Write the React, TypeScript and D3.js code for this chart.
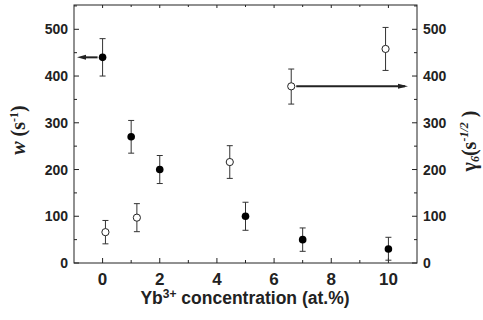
import React from "react";
import * as d3 from "d3";

const filledX = [0, 1, 2, 5, 7, 10];
const filledY = [440, 270, 200, 100, 50, 30];
const filledLo = [400, 235, 170, 70, 25, 6];
const filledHi = [480, 305, 230, 130, 75, 55];

const openX = [0.1, 1.2, 4.45, 6.6, 9.9];
const openY = [66, 97, 216, 378, 458];
const openLo = [41, 67, 181, 340, 412];
const openHi = [91, 127, 251, 415, 504];

const xTicks = [0, 2, 4, 6, 8, 10];
const xMinor = [1, 3, 5, 7, 9];
const yTicks = [0, 100, 200, 300, 400, 500];
const yMinor = [50, 150, 250, 350, 450, 550];

const W = 483, H = 320;
const M = { left: 74, right: 417, top: 5, bottom: 263 };

export default function App() {
  const x = d3.scaleLinear().domain([-1, 11]).range([M.left, M.right]);
  const y = d3.scaleLinear().domain([0, 552]).range([M.bottom, M.top]);
  const ax = "#222";
  const tickFont = "'Liberation Sans', Arial, sans-serif";
  const serif = "'Liberation Serif', 'Times New Roman', serif";
  const cap = 3;

  const err = (xs: number[], lo: number[], hi: number[], key: string) =>
    xs.map((xv, i) => (
      <g key={key + i} stroke="#333" strokeWidth={1}>
        <line x1={x(xv)} x2={x(xv)} y1={y(lo[i])} y2={y(hi[i])} />
        <line x1={x(xv) - cap} x2={x(xv) + cap} y1={y(lo[i])} y2={y(lo[i])} />
        <line x1={x(xv) - cap} x2={x(xv) + cap} y1={y(hi[i])} y2={y(hi[i])} />
      </g>
    ));

  const arrowLeftY = y(filledY[0]);
  const arrowRightY = y(openY[3]);

  return (
    <svg width={W} height={H} style={{ position: "absolute", left: 0, top: 0, background: "#fff" }}>
      <rect x={M.left} y={M.top} width={M.right - M.left} height={M.bottom - M.top} fill="none" stroke={ax} strokeWidth={1} />
      {xTicks.map((t) => (
        <g key={"xt" + t}>
          <line x1={x(t)} x2={x(t)} y1={M.bottom} y2={M.bottom - 5} stroke={ax} />
          <line x1={x(t)} x2={x(t)} y1={M.top} y2={M.top + 3} stroke={ax} />
          <text x={x(t)} y={285} textAnchor="middle" fontFamily={tickFont} fontWeight="bold" fontSize={17} fill="#222">{t}</text>
        </g>
      ))}
      {xMinor.map((t) => (
        <g key={"xm" + t}>
          <line x1={x(t)} x2={x(t)} y1={M.bottom} y2={M.bottom - 3} stroke={ax} />
          <line x1={x(t)} x2={x(t)} y1={M.top} y2={M.top + 2} stroke={ax} />
        </g>
      ))}
      {yTicks.map((t) => (
        <g key={"yt" + t}>
          <line x1={M.left} x2={M.left + 5} y1={y(t)} y2={y(t)} stroke={ax} />
          <line x1={M.right} x2={M.right - 5} y1={y(t)} y2={y(t)} stroke={ax} />
          <text x={68} y={y(t) + 5} textAnchor="end" fontFamily={tickFont} fontWeight="bold" fontSize={14} fill="#222">{t}</text>
          <text x={423} y={y(t) + 5} textAnchor="start" fontFamily={tickFont} fontWeight="bold" fontSize={14} fill="#222">{t}</text>
        </g>
      ))}
      {yMinor.map((t) => (
        <g key={"ym" + t}>
          <line x1={M.left} x2={M.left + 3} y1={y(t)} y2={y(t)} stroke={ax} />
          <line x1={M.right} x2={M.right - 3} y1={y(t)} y2={y(t)} stroke={ax} />
        </g>
      ))}
      {err(filledX, filledLo, filledHi, "fe")}
      {err(openX, openLo, openHi, "oe")}
      <line x1={x(filledX[0]) - 5} x2={M.left + 10} y1={arrowLeftY} y2={arrowLeftY} stroke="#222" strokeWidth={2} />
      <path d={`M${M.left + 3},${arrowLeftY} L${M.left + 12},${arrowLeftY - 2.5} L${M.left + 12},${arrowLeftY + 2.5} Z`} fill="#222" />
      <line x1={x(openX[3]) + 5} x2={M.right - 12} y1={arrowRightY} y2={arrowRightY} stroke="#222" strokeWidth={2} />
      <path d={`M${M.right - 9},${arrowRightY} L${M.right - 19},${arrowRightY - 2.5} L${M.right - 19},${arrowRightY + 2.5} Z`} fill="#222" />
      {filledX.map((xv, i) => (
        <circle key={"f" + i} cx={x(xv)} cy={y(filledY[i])} r={3.8} fill="#000" />
      ))}
      {openX.map((xv, i) => (
        <circle key={"o" + i} cx={x(xv)} cy={y(openY[i])} r={3.6} fill="#fff" stroke="#222" strokeWidth={1} />
      ))}
      <text x={245} y={304} textAnchor="middle" fontFamily={tickFont} fontWeight="bold" fontSize={17.5} fill="#222">
        Yb<tspan dy={-6} fontSize={12}>3+</tspan><tspan dy={6}> concentration (at.%)</tspan>
      </text>
      <text transform="translate(25,130) rotate(-90)" textAnchor="middle" fontFamily={serif} fontWeight="bold" fontSize={20} fill="#222">
        <tspan fontStyle="italic">w</tspan> (s<tspan dy={-7} fontSize={12}>-1</tspan><tspan dy={7}>)</tspan>
      </text>
      <text transform="translate(476,141) rotate(-90)" textAnchor="middle" fontFamily={serif} fontWeight="bold" fontSize={20} fill="#222">
        γ<tspan dy={3} fontSize={12} fontStyle="italic">6</tspan><tspan dy={-3}>(s</tspan><tspan dy={-8} fontSize={12} fontStyle="italic">-1/2</tspan><tspan dy={8}> )</tspan>
      </text>
    </svg>
  );
}
